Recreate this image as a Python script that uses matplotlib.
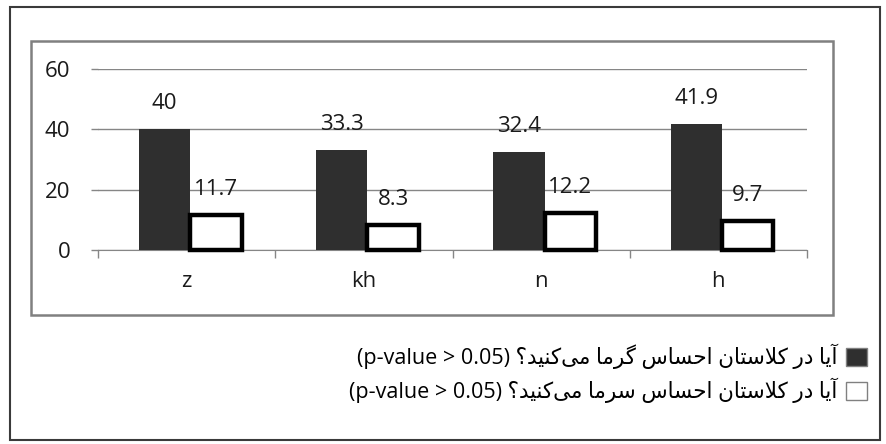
import matplotlib
matplotlib.use('Agg')
import matplotlib.pyplot as plt
from matplotlib.patches import Rectangle, Patch
import numpy as np

# data
categories = ['z', 'kh', 'n', 'h']
warm = [40, 33.3, 32.4, 41.9]
cold = [11.7, 8.3, 12.2, 9.7]
label_warm = 'آیا در کلاستان احساس گرما می‌کنید؟'
label_cold = 'آیا در کلاستان احساس سرما می‌کنید؟'
label_suffix = '(p-value > 0.05)'

plt.rcParams['font.family'] = ['Open Sans', 'DejaVu Sans']

# simple persian shaping (matplotlib has no bidi / joining)
FORMS = {
    'آ': ('\uFE81', '\uFE82', None, None),
    'ا': ('\uFE8D', '\uFE8E', None, None),
    'د': ('\uFEA9', '\uFEAA', None, None),
    'ر': ('\uFEAD', '\uFEAE', None, None),
    'ک': ('\uFB8E', '\uFB8F', '\uFB90', '\uFB91'),
    'ل': ('\uFEDD', '\uFEDE', '\uFEDF', '\uFEE0'),
    'س': ('\uFEB1', '\uFEB2', '\uFEB3', '\uFEB4'),
    'ت': ('\uFE95', '\uFE96', '\uFE97', '\uFE98'),
    'ن': ('\uFEE5', '\uFEE6', '\uFEE7', '\uFEE8'),
    'ح': ('\uFEA1', '\uFEA2', '\uFEA3', '\uFEA4'),
    'گ': ('\uFB92', '\uFB93', '\uFB94', '\uFB95'),
    'م': ('\uFEE1', '\uFEE2', '\uFEE3', '\uFEE4'),
    'ی': ('\uFBFC', '\uFBFD', '\uFBFE', '\uFBFF'),
}
LAMALEF = {'ا': ('\uFEFB', '\uFEFC'), 'آ': ('\uFEF5', '\uFEF6')}


def joins_next(c):
    return c in FORMS and FORMS[c][2] is not None


def shape(s):
    out = []
    i = 0
    n = len(s)
    while i < n:
        c = s[i]
        prev = s[i - 1] if i > 0 else ''
        if c not in FORMS:
            if c != '\u200c':
                out.append(c)
            i += 1
            continue
        jp = joins_next(prev)
        nxt = s[i + 1] if i + 1 < n else ''
        if c == 'ل' and nxt in LAMALEF:
            out.append(LAMALEF[nxt][1 if jp else 0])
            i += 2
            continue
        jn = joins_next(c) and nxt in FORMS
        iso, fin, ini, med = FORMS[c]
        if jp and jn:
            out.append(med)
        elif jp:
            out.append(fin)
        elif jn:
            out.append(ini)
        else:
            out.append(iso)
        i += 1
    return ''.join(reversed(out))


fig = plt.figure(figsize=(8.87, 4.44), dpi=100)
ax = fig.add_axes([0.1105, 0.4369, 0.7993, 0.4077])

x = np.arange(len(categories))
w = 0.29
b1 = ax.bar(x - w / 2 + 0.02, warm, w, color='#2f2f2f', zorder=3)
b2 = ax.bar(x + w / 2 + 0.02, cold, w, color='white', edgecolor='black',
            linewidth=3.2, zorder=3, clip_on=False)

for bars, vals in ((b1, warm), (b2, cold)):
    for r, v in zip(bars, vals):
        ax.text(r.get_x() + r.get_width() / 2, v + 8.4, '%g' % v, ha='center',
                va='center', fontsize=16, color='#1a1a1a')

ax.set_xlim(-0.5, 3.5)
ax.set_ylim(0, 60)
ax.set_yticks([0, 20, 40, 60])
ax.set_xticks(x)
ax.set_xticklabels(categories)
ax.set_xticks(np.arange(-0.5, 4, 1), minor=True)
ax.tick_params(axis='x', which='major', length=0, pad=15, labelsize=16,
               labelcolor='#1a1a1a')
ax.tick_params(axis='x', which='minor', length=6, color='#868686', width=1)
ax.tick_params(axis='y', length=5, color='#868686', width=1, pad=15,
               labelsize=16, labelcolor='#1a1a1a')
ax.grid(axis='y', color='#868686', linewidth=1, zorder=0)
for s in ['top', 'right', 'left']:
    ax.spines[s].set_visible(False)
ax.spines['bottom'].set_color('#868686')
ax.spines['bottom'].set_zorder(2)
ax.set_axisbelow(True)

# chart frames
fig.patches.append(Rectangle((0.035, 0.2905), 0.904, 0.6172, transform=fig.transFigure,
                             fill=False, edgecolor='#808080', linewidth=1.8))
fig.patches.append(Rectangle((0.0113, 0.009), 0.981, 0.975, transform=fig.transFigure,
                             fill=False, edgecolor='#3a3a3a', linewidth=1.5))

handles = [Patch(facecolor='#2f2f2f', edgecolor='#808080', linewidth=1),
           Patch(facecolor='white', edgecolor='#808080', linewidth=1)]
labels = [label_suffix + ' ' + shape(label_warm), label_suffix + ' ' + shape(label_cold)]
fig.legend(handles, labels, loc='upper right', bbox_to_anchor=(0.987, 0.245),
           markerfirst=False, frameon=False, fontsize=15.5, handlelength=0.95,
           handleheight=0.95, handletextpad=0.4, labelspacing=0.4, borderaxespad=0)

fig.savefig('out.png', dpi=100)
